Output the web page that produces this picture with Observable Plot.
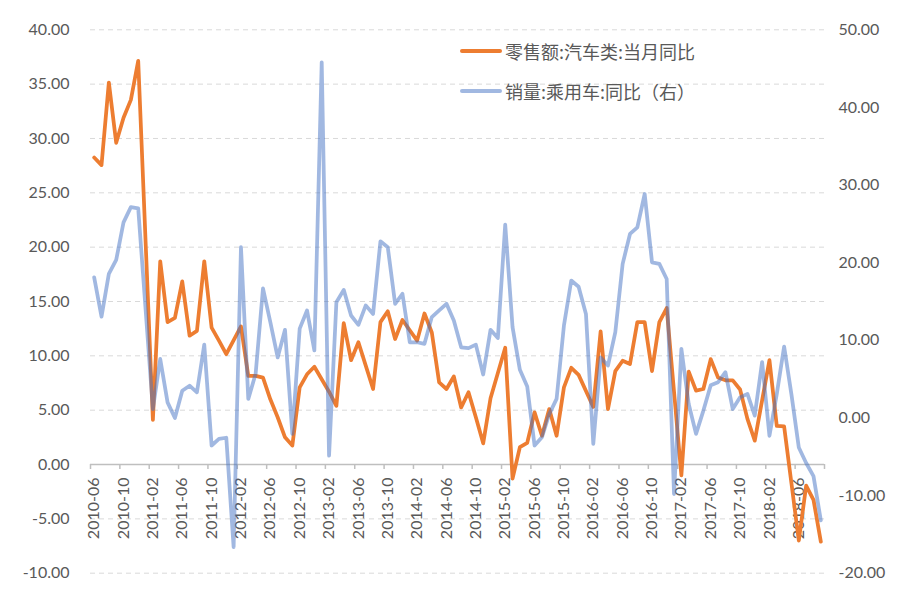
<!DOCTYPE html>
<html>
<head>
<meta charset="utf-8">
<script src="https://cdn.jsdelivr.net/npm/d3@7"></script>
<script src="https://cdn.jsdelivr.net/npm/@observablehq/plot@0.6"></script>
<style>
  html, body { margin: 0; padding: 0; background: #fff; }
  #wrap { position: relative; width: 914px; height: 590px; font-family: Lato, "Noto Sans CJK SC", sans-serif; }
  .legend { position: absolute; left: 460px; display: flex; align-items: center; font-family: "Noto Sans CJK SC", Lato, sans-serif; font-size: 18px; color: #595959; white-space: nowrap; }
  .legend .sw { width: 42px; height: 4px; margin-right: 3px; border-radius: 2px; }
</style>
</head>
<body>
<div id="wrap"></div>
<script>
// ---- data ----
const startMonth = "2010-06";          // first category
const nMonths = 100;                   // 2010-06 .. 2018-09

const xTickLabels = ["2010-06","2010-10","2011-02","2011-06","2011-10","2012-02","2012-06","2012-10",
  "2013-02","2013-06","2013-10","2014-02","2014-06","2014-10","2015-02","2015-06","2015-10",
  "2016-02","2016-06","2016-10","2017-02","2017-06","2017-10","2018-02","2018-06"];

const leftTicks = [-10, -5, 0, 5, 10, 15, 20, 25, 30, 35, 40];
const rightTicks = [-20, -10, 0, 10, 20, 30, 40, 50];

const retailName = "零售额:汽车类:当月同比";
const salesName = "销量:乘用车:同比（右）";

// 零售额:汽车类:当月同比 (left axis), null = no value that month
const retail = [
  28.25, 27.55, 35.15, 29.6, 31.9, 33.55, 37.15, null, 4.1, 18.7,
  13.1, 13.5, 16.85, 11.85, 12.3, 18.7, 12.6, 11.4, 10.15, null,
  12.7, 8.15, 8.15, 8.0, 6.0, 4.35, 2.5, 1.75, 7.1, 8.3,
  9.0, null, 6.7, 5.4, 13.0, 9.6, 11.25, 9.1, 6.95, 13.1,
  14.1, 11.55, 13.3, null, 11.4, 13.9, 12.15, 7.55, 6.95, 8.1,
  5.25, 6.65, 4.35, 1.95, 6.1, null, 10.75, -1.3, 1.6, 2.0,
  4.8, 2.65, 5.1, 2.65, 7.1, 8.9, 8.25, null, 5.3, 12.25,
  5.1, 8.6, 9.55, 9.25, 13.1, 13.1, 8.6, 13.1, 14.4, null,
  -1.0, 8.55, 6.8, 6.95, 9.7, 8.0, 7.75, 7.75, 6.9, 4.2,
  2.2, null, 9.6, 3.55, 3.5, -1.75, -7.0, -1.95, -3.25, -7.1
];

// 销量:乘用车:同比 (right axis)
const sales = [
  18.1, 13.05, 18.55, 20.35, 25.2, 27.15, 27.0, null, 1.15, 7.6,
  2.0, 0.0, 3.5, 4.15, 3.3, 9.45, -3.55, -2.7, -2.55, -16.65,
  22.0, 2.45, 5.7, 16.7, 12.35, 7.8, 11.35, -2.05, 11.5, 13.85,
  8.7, 45.8, -4.85, 14.9, 16.5, 13.2, 12.0, 14.5, 13.4, 22.75,
  22.0, 14.7, 16.0, 9.75, 9.75, 9.55, 13.0, 13.85, 14.7, 12.55,
  9.1, 9.0, 9.45, 5.6, 11.35, 10.3, 24.9, 11.7, 6.2, 4.05,
  -3.55, -2.5, 0.5, 2.45, 11.9, 17.7, 16.9, 13.4, -3.35, 7.8,
  6.75, 11.05, 19.85, 23.7, 24.55, 28.85, 20.05, 19.85, 17.9, -9.8,
  8.9, 1.8, -2.05, 0.95, 4.2, 4.6, 5.9, 1.15, 2.65, 3.1,
  0.3, 7.2, -2.3, 3.1, 9.2, 3.0, -3.8, -5.8, -7.5, -13.2
];

// ---- build ----
const orange = "#ED7D31";
const blue = "#4472C4";
const textColor = "#595959";

const fmtMonth = d3.utcFormat("%Y-%m");
const start = d3.utcParse("%Y-%m")(startMonth);
const months = d3.range(nMonths).map(i => fmtMonth(d3.utcMonth.offset(start, i)));
const rows = months.map((m, i) => ({i, m, retail: retail[i], sales: sales[i]}));

// map right axis onto left scale
const [l0, l1] = [leftTicks[0], leftTicks[leftTicks.length - 1]];
const [r0, r1] = [rightTicks[0], rightTicks[rightTicks.length - 1]];
const toLeft = r => (r - r0) * (l1 - l0) / (r1 - r0) + l0;
const fromLeft = l => (l - l0) * (r1 - r0) / (l1 - l0) + r0;
const fmt2 = v => (Math.round(v * 100) / 100).toFixed(2);

const tickIdx = xTickLabels.map(lab => months.indexOf(lab));
const boundaries = d3.range(0, nMonths + 1, 4).map(b => b - 0.5);

const fontFamily = 'Lato, "Noto Sans CJK SC", sans-serif';

const chart = Plot.plot({
  width: 914,
  height: 590,
  marginLeft: 90,
  marginRight: 90,
  marginTop: 29.3,
  marginBottom: 17.3,
  style: {fontFamily, fontSize: "16px", color: textColor, background: "#fff", overflow: "visible"},
  x: {type: "linear", domain: [-0.5, nMonths - 0.5], axis: null},
  y: {domain: [l0, l1], axis: null},
  marks: [
    Plot.gridY(leftTicks, {stroke: "#d9d9d9", strokeOpacity: 1, strokeWidth: 1, strokeDasharray: "5,4"}),
    Plot.ruleY([0], {stroke: "#bfbfbf", strokeWidth: 1.5}),
    Plot.ruleX(boundaries, {x: d => d, y1: 0, y2: 0, insetBottom: -5, stroke: "#bfbfbf", strokeWidth: 1.5}),
    Plot.axisY(leftTicks, {anchor: "left", label: null, tickSize: 0, tickPadding: 21, tickFormat: fmt2, fontSize: 16, fill: textColor}),
    Plot.axisY(rightTicks.map(toLeft), {anchor: "right", label: null, tickSize: 0, tickPadding: 14, tickFormat: v => fmt2(fromLeft(v)), fontSize: 16, fill: textColor}),
    Plot.text(xTickLabels, {x: (d, k) => tickIdx[k], y: 0, text: d => d, rotate: -90, textAnchor: "end", lineAnchor: "middle", dy: 13, fontSize: 16, fill: textColor}),
    Plot.line(rows.filter(d => d.retail != null), {x: "i", y: "retail", stroke: orange, strokeWidth: 3.75, strokeLinejoin: "round", strokeLinecap: "round"}),
    Plot.line(rows.filter(d => d.sales != null), {x: "i", y: d => toLeft(d.sales), stroke: blue, strokeOpacity: 0.5, strokeWidth: 3.75, strokeLinejoin: "round", strokeLinecap: "round"})
  ]
});

const wrap = document.getElementById("wrap");
wrap.appendChild(chart);

function legendItem(color, opacity, label, top) {
  const div = document.createElement("div");
  div.className = "legend";
  div.style.top = top + "px";
  const sw = document.createElement("span");
  sw.className = "sw";
  sw.style.background = color;
  sw.style.opacity = opacity;
  const t = document.createElement("span");
  t.textContent = label;
  div.appendChild(sw);
  div.appendChild(t);
  wrap.appendChild(div);
}
legendItem(orange, 1, retailName, 38);
legendItem(blue, 0.5, salesName, 78);
</script>
</body>
</html>
